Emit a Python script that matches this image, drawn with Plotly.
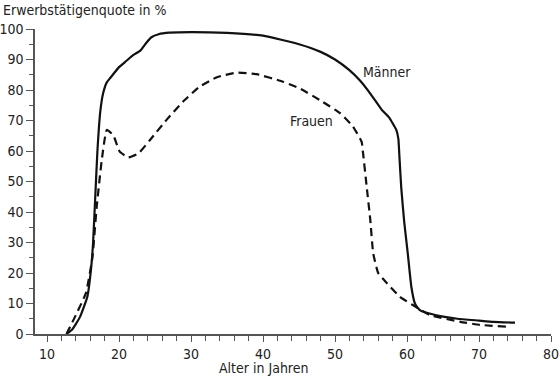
import plotly.graph_objects as go

# Männer (solid)
age_m = [12.7, 13.5, 14.6, 15.6, 16.1, 16.4, 16.7, 17.0, 17.4, 17.8, 18.3, 18.8, 20, 21, 22, 23,
         23.8, 24.5, 25.5, 27, 30, 35, 40, 45, 48, 50, 52, 53.5, 55, 56.5, 57.5, 58.5, 58.8,
         58.95, 59.2, 59.6, 60.1, 60.6, 61.1, 61.5, 62, 63, 65, 67, 70, 72, 75]
quote_m = [0, 1.5, 5.7, 12.2, 21, 30, 45, 60, 73, 79, 82.5, 84, 87.5, 89.5, 91.5, 93,
           95.5, 97.3, 98.3, 98.8, 99, 98.7, 97.8, 95, 92.5, 90, 86.5, 83, 78.5, 73.5, 71, 67, 64,
           58, 48, 37, 26.5, 15.5, 10, 8.5, 7.5, 6.8, 5.7, 5, 4.4, 4, 3.7]

# Frauen (dashed)
age_f = [12.7, 13.9, 15.4, 16.3, 16.9, 17.6, 18.3, 19.2, 20.1, 21.3, 22.7, 24.3, 26.6, 28.9,
         31.2, 33.6, 36.3, 39.1, 42.8, 45.1, 47.9, 50.7, 52.5, 53.7, 53.9, 54.4, 54.9, 55.3,
         56.0, 57.2, 59.0, 60.8, 63.2, 67.4, 70.1, 73.8]
quote_f = [0, 5.7, 13.4, 25, 41.7, 57, 66.9, 65.2, 59.8, 57.9, 59.2, 63.6, 70.2, 76.2,
           81.1, 84.2, 85.7, 85.2, 82.7, 80.5, 76.7, 72.4, 68, 63, 59.2, 48.3, 37.4, 26.5,
           20, 16.7, 12.2, 9.5, 6.2, 4.0, 3.0, 2.4]

x_ticks = [10, 20, 30, 40, 50, 60, 70, 80]
y_ticks = [0, 10, 20, 30, 40, 50, 60, 70, 80, 90, 100]

FONT = "DejaVu Sans Condensed, Liberation Sans Narrow, Open Sans, sans-serif"
AX = "#555555"
FS = 14

fig = go.Figure()
fig.add_trace(go.Scatter(x=age_m, y=quote_m, mode="lines",
                         line=dict(color="#111111", width=2.2, shape="spline", smoothing=0.4),
                         showlegend=False))
fig.add_trace(go.Scatter(x=age_f, y=quote_f, mode="lines",
                         line=dict(color="#111111", width=2.2, dash="8px,5px", shape="spline", smoothing=0.4),
                         showlegend=False))

fig.update_layout(
    width=560, height=379,
    margin=dict(l=35, r=9, t=29, b=45),
    paper_bgcolor="white", plot_bgcolor="white",
    font=dict(family=FONT, size=FS, color="#222222"),
    xaxis=dict(range=[8.33, 80], tickvals=x_ticks, showgrid=False, zeroline=False, automargin=False,
               showline=True, linecolor=AX, linewidth=1.5,
               ticks="outside", ticklen=6, tickcolor=AX, tickwidth=1,
               minor=dict(dtick=2, tick0=0, ticks="outside", ticklen=5, tickcolor=AX, tickwidth=1),
               tickfont=dict(size=FS)),
    yaxis=dict(range=[0, 100], tickvals=y_ticks, showgrid=False, zeroline=False, automargin=False,
               showline=True, linecolor=AX, linewidth=1.5,
               ticks="outside", ticklen=7, tickcolor=AX, tickwidth=1,
               minor=dict(dtick=5, tick0=0, ticks="outside", ticklen=4, tickcolor=AX, tickwidth=1),
               tickfont=dict(size=FS)),
    annotations=[
        dict(text="Erwerbstätigenquote in %", xref="paper", yref="paper", x=-34/516, y=1 + 19/305,
             xanchor="left", yanchor="middle", showarrow=False, font=dict(size=FS)),
        dict(text="Alter in Jahren", xref="x", yref="paper", x=40, y=-34/305,
             xanchor="center", yanchor="middle", showarrow=False, font=dict(size=FS)),
        dict(text="Männer", x=57.2, y=85.9, xref="x", yref="y", showarrow=False, font=dict(size=FS)),
        dict(text="Frauen", x=46.8, y=70, xref="x", yref="y", showarrow=False, font=dict(size=FS)),
    ],
)

fig.write_html("out.html", config={"displayModeBar": False},
               post_script="document.body.style.margin='0';document.body.style.overflow='hidden';")
